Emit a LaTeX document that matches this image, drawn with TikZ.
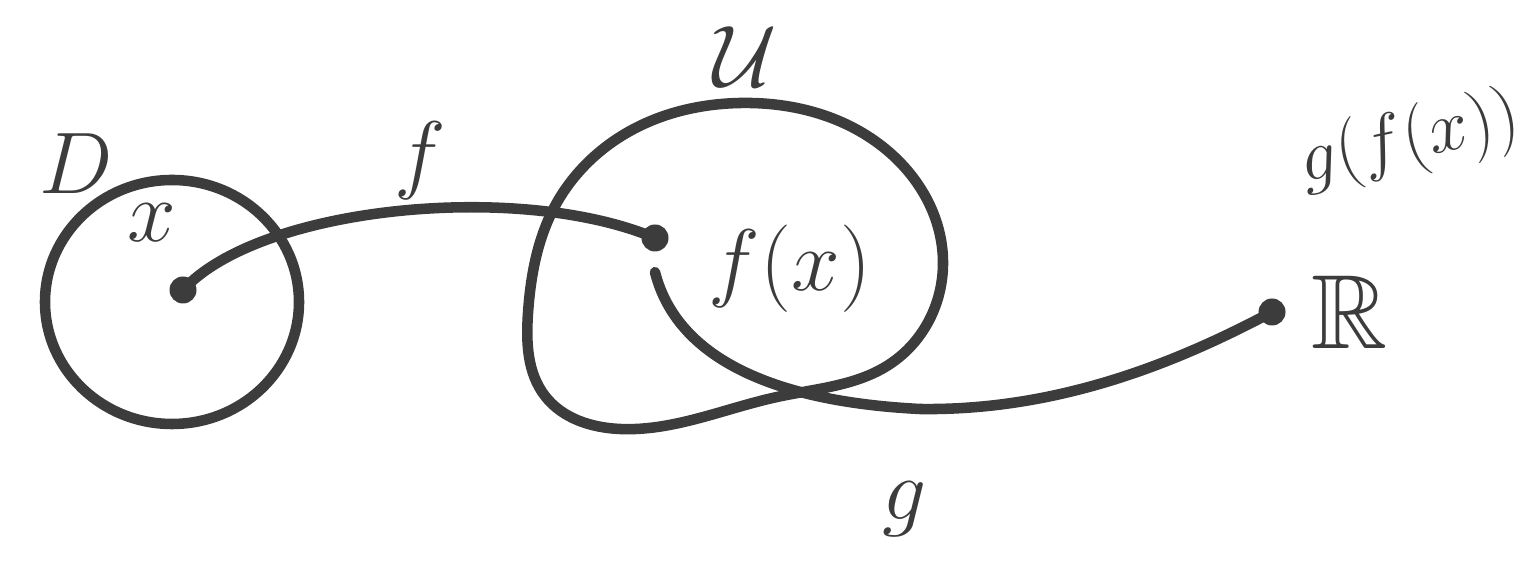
\documentclass[tikz,border=0pt]{standalone}
\usepackage{amsmath,amssymb}
\usetikzlibrary{positioning,calc,shapes.geometric,hobby}
\definecolor{ink}{HTML}{3C3C3C}

\begin{document}
\begin{tikzpicture}[
    node distance=0.2cm and 0.25cm,
    pen/.style={line width=3pt, draw=ink, line cap=round, line join=round},
    setring/.style={ellipse, pen, inner sep=0pt},
    dot/.style={circle, fill=ink, inner sep=0pt, minimum size=0.27cm},
    lbl/.style={text=ink, inner sep=0pt, font=\fontsize{30}{32}\selectfont},
    small/.style={lbl, font=\fontsize{21}{23}\selectfont}
]
\useasboundingbox (0,0) rectangle (15.37,5.81);

% Domain D
\node[setring, minimum width=2.54cm, minimum height=2.44cm] (Dset) at (1.72,2.79) {};
\node[lbl] (Dlbl) at (0.76,4.17) {$D$};
\node[dot] (xdot) at (1.83,2.91) {};
\node[lbl] (xlbl) at (1.52,3.58) {$x$};

% Set U
\draw[pen, use Hobby shortcut, closed=true] (7.4,4.78) .. (8.83,4.34) .. (9.43,3.18)
    .. (8.9,2.17) .. (7.77,1.84) .. (6.2,1.52) .. (5.45,1.85) .. (5.28,2.68)
    .. (5.55,3.75) .. (6.3,4.5);
\node[lbl] (Ulbl) at (7.45,5.24) {$\mathcal{U}$};
\node[dot] (fxdot) at (6.55,3.43) {};
\node[lbl] (fxlbl) at (7.9,3.12) {$f(x)$};

% Target R
\node[dot] (Rdot) at (12.72,2.69) {};
\node[lbl, right=of Rdot] (Rlbl) {$\mathbb{R}$};
\node[small, rotate=12] (gfxlbl) at (14.1,4.4) {$g(f(x))$};

% Maps f and g
\draw[pen] (xdot.center) .. controls (2.6,3.75) and (5.2,4.0) .. (fxdot.center);
\node[lbl] (flbl) at (4.2,4.2) {$f$};
\coordinate[below=0.2cm of fxdot] (gstart);
\draw[pen] (gstart) .. controls (6.75,2.3) and (7.6,1.8) .. (9.2,1.72)
    .. controls (10.6,1.7) and (11.8,2.2) .. (Rdot.center);
\node[lbl] (glbl) at (9.05,0.72) {$g$};

\end{tikzpicture}
\end{document}
